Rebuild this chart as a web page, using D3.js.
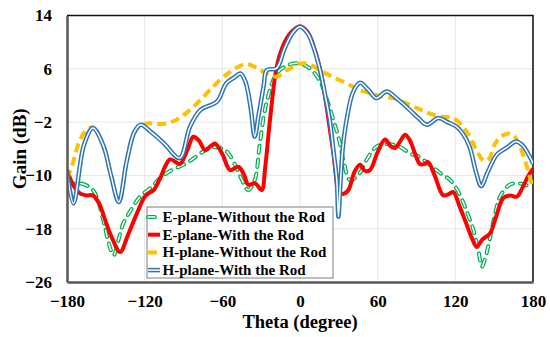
<!DOCTYPE html>
<html>
<head>
<meta charset="utf-8">
<script src="https://cdn.jsdelivr.net/npm/d3@7"></script>
<style>
    body { margin: 0; background: #fff; }
    text { font-family: "Liberation Serif", "Times New Roman", serif; font-weight: bold; }
</style>
</head>
<body>
<div id="container"></div>
<script>
// Data (theta in degrees, gain in dB)
const xTicks = [-180, -120, -60, 0, 60, 120, 180];
const yTicks = [-26, -18, -10, -2, 6, 14];

const eWithoutTheta = [-180, -170, -160, -152, -148, -144, -140, -136.5, -130, -123.6, -115, -108, -100, -90, -84, -77, -69.5, -63, -56.6, -50, -46, -40, -35, -31, -26, -18, -10, -5, 0, 8, 15.5, 21, 25.8, 30, 33.5, 38.6, 46, 52, 59, 68, 77, 85, 92, 100, 108, 116, 121, 126, 130, 134, 138, 140.5, 143, 147, 151, 154.5, 162, 170, 175, 180];
const eWithoutGain = [-11.4, -11.2, -12.2, -16.7, -20, -22, -19.5, -17.2, -15, -13.2, -11.8, -10.4, -9.3, -8.4, -7.7, -6.7, -5.9, -5.8, -6.4, -8.5, -10.2, -12.2, -10.7, -5.2, 0.8, 5.3, 6.5, 6.8, 6.8, 6.0, 4.1, 1.3, -1.7, -4.5, -7.7, -10.7, -9.7, -7.5, -5.7, -5.3, -5.7, -6.7, -7.2, -8.4, -9.6, -10.7, -12, -14, -16, -18.2, -21.5, -23.7, -22.5, -19.2, -15.5, -13.2, -11.4, -11.2, -11.5, -11.9];

const eWithTheta = [-180, -175, -170, -165, -160, -155, -150, -145, -139, -133, -126, -120, -117, -113, -108, -104, -100.4, -96, -92.7, -87, -82.4, -78, -73.4, -69, -65.7, -60, -54, -47.6, -43, -40, -34.7, -29.6, -27, -23.2, -18, -13, -7.7, 0, 6, 12, 16, 20, 23, 25.8, 28, 29.7, 33, 37.4, 42, 46.4, 50, 54, 60, 65.7, 70, 73.4, 77, 81.2, 85, 89, 92.7, 96, 99, 104, 110.7, 115, 118.5, 123, 128, 133, 136.5, 141, 146.8, 151, 157, 162, 167.4, 172, 176, 180];
const eWithGain = [-9.2, -11.5, -12.7, -13.0, -13, -14.3, -17, -19.5, -21.5, -19, -15.7, -13.2, -12.7, -12.2, -10.4, -8.6, -7.6, -8, -8.3, -6.2, -4.2, -4.8, -6.2, -5.6, -5.2, -6.8, -9.2, -8.7, -10, -11.4, -11.2, -12.2, -9, -1.7, 6.3, 9.5, 11.3, 12.4, 11.5, 8.5, 5.5, 1.0, -3, -6.7, -10.5, -12.5, -12.8, -12.2, -9.5, -8.4, -9.3, -9.2, -6.5, -4.6, -5.6, -5.9, -5, -3.9, -4.8, -6.8, -8.3, -8.3, -8, -10, -13, -12.8, -12.5, -14.5, -17, -19.5, -20.7, -19.6, -18.7, -16.5, -13.4, -13, -13.2, -11.8, -10.2, -9];

const hWithoutTheta = [-180, -176, -171, -166, -160, -152, -146, -140, -134, -131, -125, -118, -110, -103, -95, -87, -77, -62, -52, -42, -34, -26, -18, -10, 0, 8, 15, 25, 35, 41, 46, 55, 62, 72, 80, 88, 95, 103, 110, 118, 126, 132, 137, 142, 146, 150, 155, 162, 166, 170, 175, 180];
const hWithoutGain = [-10.5, -8.5, -5.2, -3.4, -2.8, -5.5, -10, -14, -8, -5.2, -2.8, -2.2, -2.3, -2.2, -1.6, -0.5, 1.3, 4.3, 5.8, 6.7, 6.2, 5.3, 4.8, 5.8, 6.8, 6.6, 5.8, 4.8, 3.9, 3.3, 2.8, 2.3, 1.9, 1.6, 1.0, 0.3, -0.3, -0.9, -1.2, -1.4, -2.7, -4.5, -6.5, -7.8, -7.5, -5.5, -4.2, -3.7, -4.2, -5.7, -8.5, -12];

const hWithTheta = [-180, -175, -167, -160, -152, -146, -140, -134, -128, -123, -115, -105, -93, -85, -77, -64, -57, -50, -46, -42, -38, -35, -32, -28, -25.7, -18, -12, -6, 0, 6, 10, 15.5, 20, 23, 26, 28.4, 29.7, 31, 33, 36, 41, 46.4, 53, 59, 67, 75, 85, 92, 98, 107, 114, 121, 126, 131, 136, 140, 145, 152, 160, 167, 172, 177, 180];
const hWithGain = [-9.2, -14.2, -5.5, -2.9, -5.5, -10, -14, -8, -3.5, -2.4, -3.5, -5.2, -7.4, -2.7, -0.2, 1.1, 3.8, 4.8, 5.3, 4, 0, -4.2, -1, 3.5, 5.8, 6.1, 9, 11.3, 12.3, 11.3, 9.5, 5.8, 1.5, -1.7, -6.5, -10.7, -16.2, -12, -6, -1.7, 2.5, 3.9, 2.8, 1.6, 2.6, 1.5, -0.2, -1.5, -2.4, -1.4, -2, -2.7, -3.8, -5.7, -9.5, -11.6, -9.5, -6.9, -5.8, -4.9, -5.5, -7, -8.2];

const seriesNames = ["E-plane-Without the Rod", "E-plane-With the Rod", "H-plane-Without the Rod", "H-plane-With the Rod"];

const series = [
    { name: seriesNames[0], theta: eWithoutTheta, gain: eWithoutGain, type: "hollowDash" },
    { name: seriesNames[1], theta: eWithTheta, gain: eWithGain, type: "solid" },
    { name: seriesNames[2], theta: hWithoutTheta, gain: hWithoutGain, type: "dash" },
    { name: seriesNames[3], theta: hWithTheta, gain: hWithGain, type: "double" }
];

const serif = "'Liberation Serif', 'Times New Roman', serif";

// Margins and dimensions
const margin = { top: 15.5, right: 17, bottom: 55, left: 67 },
      width = 550 - margin.left - margin.right,
      height = 337 - margin.top - margin.bottom;

const svg = d3.select("#container").append("svg")
    .attr("width", 550)
    .attr("height", 337);

const g = svg.append("g")
    .attr("transform", `translate(${margin.left},${margin.top})`);

// Scales
const x = d3.scaleLinear().domain([-180, 180]).range([0, width]);
const y = d3.scaleLinear().domain([-26, 14]).range([height, 0]);

// Gridlines
g.selectAll(".vgrid").data(xTicks).enter().append("line")
    .attr("x1", d => x(d)).attr("x2", d => x(d))
    .attr("y1", 0).attr("y2", height)
    .attr("stroke", "#e6e6e6").attr("stroke-width", 1);
g.selectAll(".hgrid").data(yTicks).enter().append("line")
    .attr("x1", 0).attr("x2", width)
    .attr("y1", d => y(d)).attr("y2", d => y(d))
    .attr("stroke", "#e6e6e6").attr("stroke-width", 1);

// Top and right border
g.append("path")
    .attr("d", `M0,0H${width}V${height}`)
    .attr("fill", "none").attr("stroke", "#111").attr("stroke-width", 1.5);

g.append("clipPath").attr("id", "clip")
    .append("rect").attr("width", width).attr("height", height);

const line = d3.line()
    .x(d => x(d[0]))
    .y(d => y(d[1]))
    .curve(d3.curveCatmullRom.alpha(0.5));

const plot = g.append("g").attr("clip-path", "url(#clip)");

// Draw one style of line into a group
function drawStyled(sel, d, type) {
    if (type === "hollowDash") {
        sel.append("path").attr("d", d).attr("fill", "none")
            .attr("stroke", "#00B050").attr("stroke-width", 4)
            .attr("stroke-linecap", "round").attr("stroke-dasharray", "7,7");
        sel.append("path").attr("d", d).attr("fill", "none")
            .attr("stroke", "#fff").attr("stroke-width", 1.5)
            .attr("stroke-linecap", "round").attr("stroke-dasharray", "7,7");
    } else if (type === "solid") {
        sel.append("path").attr("d", d).attr("fill", "none")
            .attr("stroke", "#FF0000").attr("stroke-width", 4);
    } else if (type === "dash") {
        sel.append("path").attr("d", d).attr("fill", "none")
            .attr("stroke", "#FFC000").attr("stroke-width", 4)
            .attr("stroke-dasharray", "9,5");
    } else {
        sel.append("path").attr("d", d).attr("fill", "none")
            .attr("stroke", "#2E75B6").attr("stroke-width", 4.5);
        sel.append("path").attr("d", d).attr("fill", "none")
            .attr("stroke", "#fff").attr("stroke-width", 1.5);
    }
}

series.forEach(s => {
    const pts = s.theta.map((t, i) => [t, s.gain[i]]);
    drawStyled(plot.append("g"), line(pts), s.type);
});

// Axes (left and bottom)
const xAxis = g.append("g")
    .attr("transform", `translate(0,${height})`)
    .call(d3.axisBottom(x).tickValues(xTicks).tickSize(0).tickPadding(13));
const yAxis = g.append("g")
    .call(d3.axisLeft(y).tickValues(yTicks).tickSize(0).tickPadding(15));

[xAxis, yAxis].forEach(a => {
    a.attr("font-family", serif);
    a.select(".domain").attr("stroke", "#595959").attr("stroke-width", 2.5);
    a.selectAll("text")
        .attr("font-family", serif)
        .attr("font-weight", "bold")
        .attr("font-size", 17)
        .attr("fill", "#000");
});

// Axis labels
svg.append("text")
    .attr("x", margin.left + width / 2)
    .attr("y", 328)
    .style("text-anchor", "middle")
    .attr("font-family", serif)
    .attr("font-size", 18.5)
    .text("Theta (degree)");

svg.append("text")
    .attr("transform", `translate(26,${margin.top + height / 2}) rotate(-90)`)
    .style("text-anchor", "middle")
    .attr("font-family", serif)
    .attr("font-size", 19)
    .text("Gain (dB)");

// Legend
const legend = svg.append("g").attr("transform", "translate(147,207)");
legend.append("rect")
    .attr("width", 186).attr("height", 71)
    .attr("fill", "#fff").attr("stroke", "#7f7f7f").attr("stroke-width", 1);

series.forEach((s, i) => {
    const row = legend.append("g").attr("transform", `translate(0,${10 + i * 17.7})`);
    drawStyled(row, "M1,0H13", s.type);
    row.append("text")
        .attr("x", 15.5)
        .attr("y", 5)
        .attr("font-family", serif)
        .attr("font-size", 15)
        .text(s.name);
});
</script>
</body>
</html>
